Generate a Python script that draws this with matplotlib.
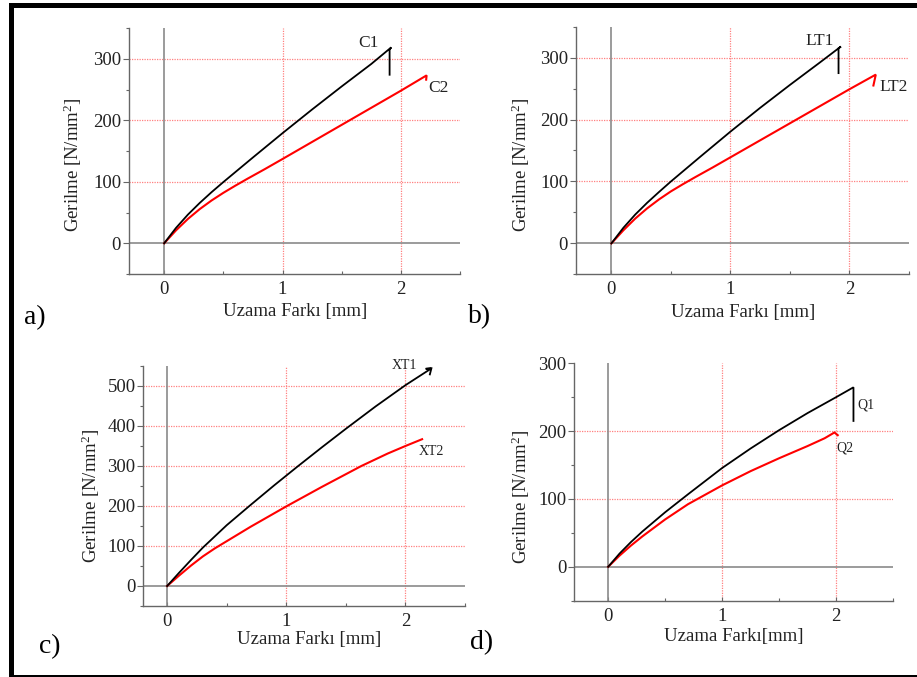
import matplotlib
matplotlib.use("Agg")
import matplotlib.pyplot as plt
from matplotlib.ticker import MultipleLocator
from matplotlib.patches import Rectangle

plt.rcParams["font.family"] = "Liberation Serif"
plt.rcParams["mathtext.fontset"] = "custom"
plt.rcParams["mathtext.rm"] = "Liberation Serif"
plt.rcParams["font.size"] = 13

# a) C1 / C2
c1_x = [0, 0.1, 0.2, 0.3, 0.4, 0.5, 0.75, 1.0, 1.25, 1.5, 1.75, 1.919, 1.905, 1.905]
c1_y = [0, 25, 46.5, 65.5, 83, 99.5, 139.5, 179, 217.5, 255, 291.5, 318.5, 315, 274]
c2_x = [0, 0.1, 0.2, 0.3, 0.4, 0.5, 0.6, 0.7, 0.85, 1.0, 1.5, 2.0, 2.218, 2.214]
c2_y = [0, 21, 39.5, 55.5, 69.5, 82, 93.5, 104.5, 120.5, 137, 192.5, 248, 273, 266]

# b) LT1 / LT2
lt1_x = [0, 0.1, 0.2, 0.3, 0.4, 0.5, 0.75, 1.0, 1.25, 1.5, 1.75, 1.928, 1.908, 1.908]
lt1_y = [0, 25, 46.5, 65.5, 83, 100, 140.5, 180.5, 219, 256, 292, 318, 315, 275]
lt2_x = [0, 0.1, 0.2, 0.3, 0.4, 0.5, 0.6, 0.7, 0.85, 1.0, 1.5, 2.0, 2.221, 2.201]
lt2_y = [0, 21, 40, 56.5, 71, 84, 95.5, 106.5, 122.5, 139, 194, 249, 272.6, 255]

# c) XT1 / XT2
xt1_x = [0, 0.1, 0.2, 0.3, 0.5, 0.7, 0.9, 1.1, 1.3, 1.5, 1.75, 2.0, 2.218, 2.17, 2.218, 2.205]
xt1_y = [0, 33, 65, 96, 152, 202.5, 252, 300, 347, 393, 449, 502, 544, 543, 544, 529]
xt2_x = [0, 0.1, 0.2, 0.3, 0.4, 0.5, 0.7, 1.0, 1.3, 1.63, 1.85, 2.0, 2.14]
xt2_y = [0, 26, 51, 74, 94, 112, 148, 199, 248, 300, 331, 350, 367]

# d) Q1 / Q2
q1_x = [0, 0.1, 0.2, 0.3, 0.5, 0.7, 1.0, 1.25, 1.5, 1.75, 2.0, 2.153, 2.153]
q1_y = [0, 19.5, 36.5, 52, 80.4, 106.8, 145.6, 174.4, 201.4, 226.6, 250, 264.6, 215]
q2_x = [0, 0.1, 0.2, 0.3, 0.5, 0.7, 1.0, 1.25, 1.5, 1.75, 1.9, 1.986, 2.015]
q2_y = [0, 16.5, 31.3, 44.8, 69.8, 92.2, 120, 141, 160, 178, 189.5, 198, 194]

W, H = 917, 677
fig = plt.figure(figsize=(W / 100, H / 100), dpi=100)


def fx(px):
    return px / W


def fy(py):
    return 1 - py / H


def panel(box, xlim, ylim, ystep, grid_y, curves, names, name_pos, name_size,
          ylab_px, xlab_px, xlabel, letter, letter_px):
    l, t, r, b = box
    ax = fig.add_axes([fx(l), fy(b), (r - l) / W, (b - t) / H])
    ax.set_xlim(*xlim)
    ax.set_ylim(*ylim)
    for s in ["top", "right"]:
        ax.spines[s].set_visible(False)
    for s in ["left", "bottom"]:
        ax.spines[s].set_color("#666666")
        ax.spines[s].set_linewidth(1.0)
    ax.xaxis.set_major_locator(MultipleLocator(1))
    ax.xaxis.set_minor_locator(MultipleLocator(0.5))
    ax.yaxis.set_major_locator(MultipleLocator(ystep))
    ax.yaxis.set_minor_locator(MultipleLocator(ystep / 2))
    ax.tick_params(axis="x", which="major", direction="in", length=3,
                   width=0.8, color="#666666", pad=5, labelsize=13.5,
                   labelcolor="#222222")
    ax.tick_params(axis="x", which="minor", direction="in", length=2,
                   width=0.8, color="#666666")
    ax.tick_params(axis="y", which="major", direction="out", length=4,
                   width=0.8, color="#666666", pad=1.5, labelsize=13.5,
                   labelcolor="#222222")
    ax.tick_params(axis="y", which="minor", direction="out", length=2,
                   width=0.8, color="#666666")

    for gx in [1, 2]:
        ax.axvline(gx, color="#ff8080", lw=0.9, ls=(0, (1, 1)), zorder=1)
    for gy in grid_y:
        ax.axhline(gy, color="#ff8080", lw=0.9, ls=(0, (1, 1)), zorder=1)
    ax.axvline(0, color="#8a8a8a", lw=1.2, zorder=2)
    ax.axhline(0, color="#8a8a8a", lw=1.2, zorder=2)

    (x1, y1), (x2, y2) = curves
    ax.plot(x1, y1, color="black", lw=1.3, zorder=4, solid_joinstyle="miter")
    ax.plot(x2, y2, color="red", lw=1.5, zorder=3, solid_joinstyle="miter")

    for nm, (px, py) in zip(names, name_pos):
        ax.text(px, py, nm, ha="center", va="center", fontsize=name_size,
                color="#222222", clip_on=False)

    ax.set_ylabel(r"Gerilme [N/mm$\mathregular{^2}$]", fontsize=13.5,
                  color="#222222")
    ax.yaxis.set_label_coords(fx(ylab_px[0]), fy(ylab_px[1]),
                              transform=fig.transFigure)
    ax.set_xlabel(xlabel, fontsize=13.5, color="#222222")
    ax.xaxis.set_label_coords(fx(xlab_px[0]), fy(xlab_px[1]),
                              transform=fig.transFigure)

    fig.text(fx(letter_px[0]), fy(letter_px[1]), letter, fontsize=20,
             ha="center", va="center", color="black")
    return ax


panel((128.7, 28, 460, 274), (-0.3, 2.5), (-50, 350), 100, [100, 200, 300],
      [(c1_x, c1_y), (c2_x, c2_y)], ["C1", "C2"],
      [(1.73, 325), (2.32, 252)], 12.5,
      (84, 165), (295, 303), "Uzama Farkı [mm]", "a)", (35, 318))

panel((575.7, 26.7, 909, 274.3), (-0.3, 2.5), (-50, 350), 100, [100, 200, 300],
      [(lt1_x, lt1_y), (lt2_x, lt2_y)], ["LT1", "LT2"],
      [(1.75, 327), (2.37, 253)], 12.5,
      (532, 165), (743, 304), "Uzama Farkı [mm]", "b)", (480, 317))

panel((143.3, 366, 465, 606), (-0.2, 2.5), (-50, 550), 100,
      [100, 200, 300, 400, 500],
      [(xt1_x, xt1_y), (xt2_x, xt2_y)], ["XT1", "XT2"],
      [(1.99, 552), (2.22, 336)], 10,
      (102, 496), (309, 631), "Uzama Farkı [mm]", "c)", (50, 647))

panel((574, 363.3, 893, 600.7), (-0.3, 2.5), (-50, 300), 100, [100, 200],
      [(q1_x, q1_y), (q2_x, q2_y)], ["Q1", "Q2"],
      [(2.26, 239), (2.08, 175)], 10,
      (532, 497), (734, 628), "Uzama Farkı[mm]", "d)", (482, 643))

# black frame around the figure (left, top, bottom)
for (x0, y0, x1, y1) in [(8.5, 3, 14, 677), (8.5, 3, 917, 8), (8.5, 675, 917, 677)]:
    fig.add_artist(Rectangle((fx(x0), fy(y1)), (x1 - x0) / W, (y1 - y0) / H,
                             transform=fig.transFigure, color="black", lw=0))

fig.savefig("out.png", dpi=100)
